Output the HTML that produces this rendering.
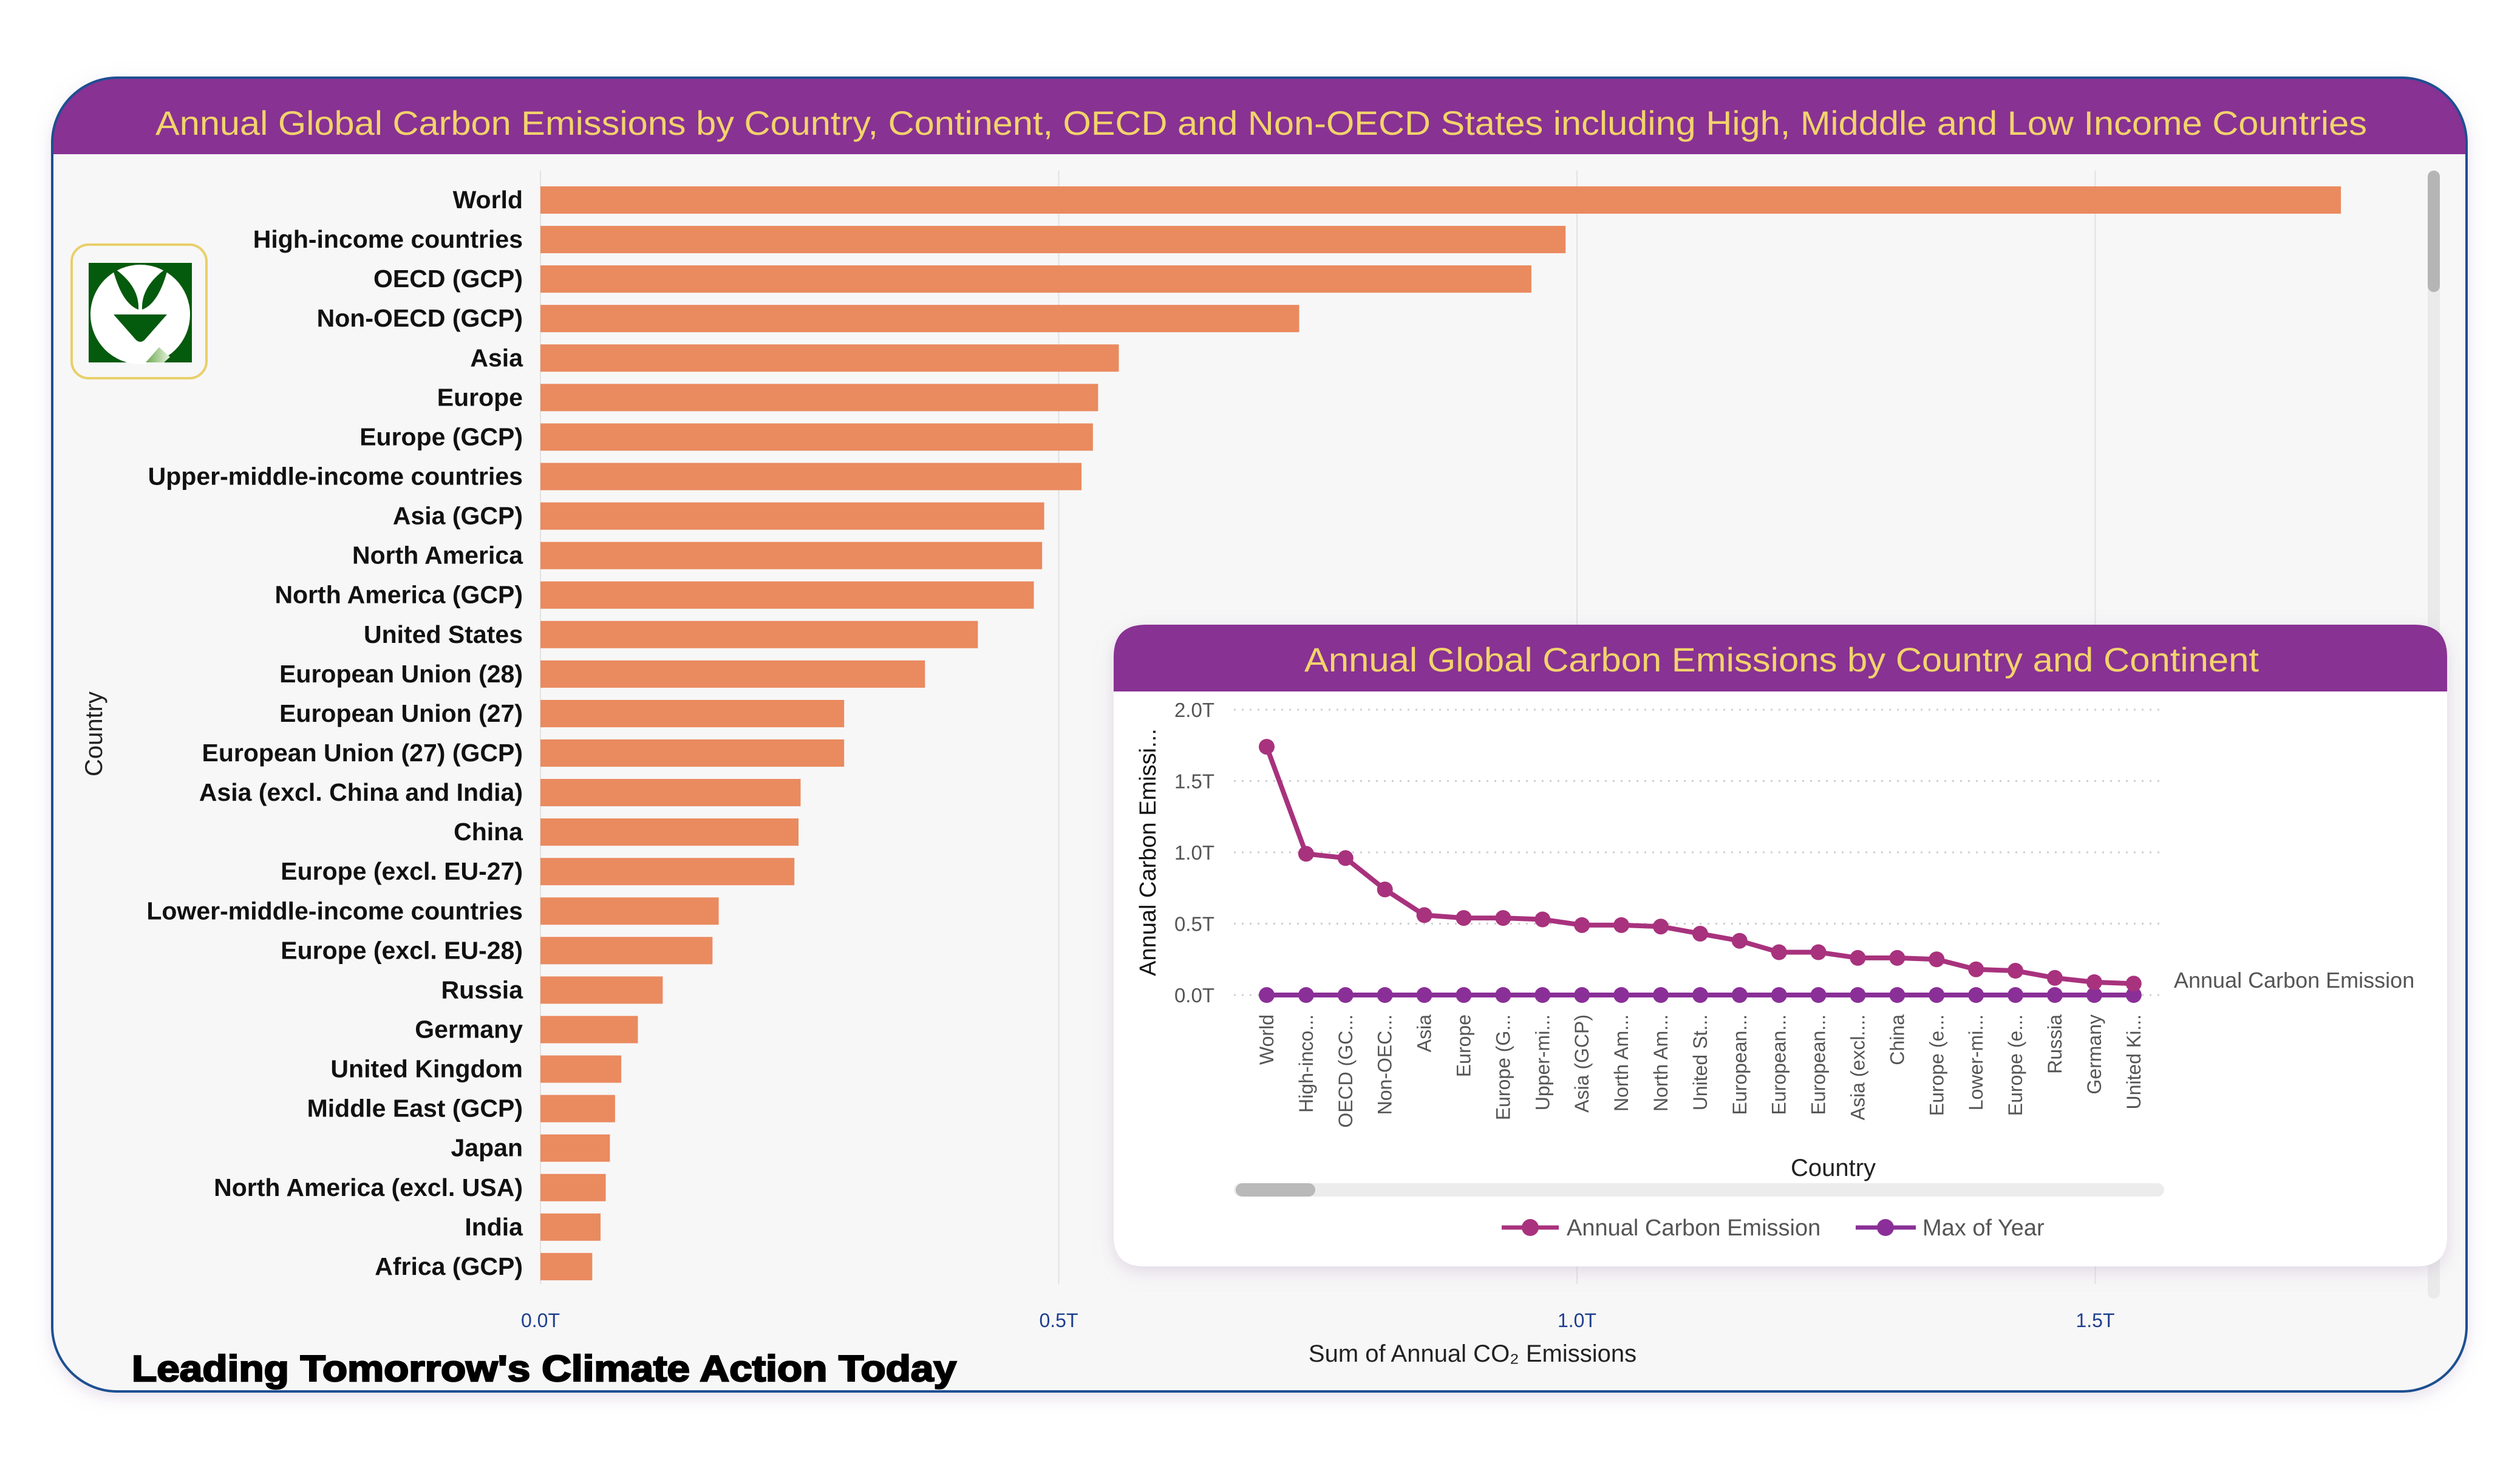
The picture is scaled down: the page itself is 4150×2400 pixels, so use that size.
<!DOCTYPE html>
<html><head><meta charset="utf-8"><style>
html,body{margin:0;padding:0;background:#fff;}
svg{display:block;font-family:"Liberation Sans",sans-serif;}
</style></head><body>
<svg id="root" width="4150" height="2400" viewBox="0 0 4150 2400" xmlns="http://www.w3.org/2000/svg">
<defs>
<filter id="sh" x="-5%" y="-5%" width="110%" height="110%"><feDropShadow dx="0" dy="8" stdDeviation="14" flood-color="#c9b7d2" flood-opacity="0.5"/></filter>
<clipPath id="cardclip"><rect x="86" y="128" width="3976" height="2164" rx="107"/></clipPath>
<linearGradient id="lg" x1="0" x2="1"><stop offset="0" stop-color="#6aa84f"/><stop offset="1" stop-color="#e8f3e0"/></linearGradient>
</defs>
<rect x="86" y="128" width="3976" height="2164" rx="107" fill="#f7f7f7" filter="url(#sh)"/>
<g clip-path="url(#cardclip)">
<rect x="86" y="128" width="3976" height="126" fill="#883293"/>
</g>
<rect x="86" y="128" width="3976" height="2164" rx="107" fill="none" stroke="#1d4f91" stroke-width="4"/>
<text x="256" y="222" textLength="3642" lengthAdjust="spacingAndGlyphs" font-size="56" fill="#f2d36b">Annual Global Carbon Emissions by Country, Continent, OECD and Non-OECD States including High, Midddle and Low Income Countries</text>

<g>
<rect x="118" y="403" width="222" height="220" rx="28" fill="#f7f7f7" stroke="#e8cf6a" stroke-width="4"/>
<rect x="146" y="433" width="170" height="164" fill="#045a0d"/>
<circle cx="231" cy="518" r="82" fill="#fff"/>
<path d="M185 440 Q230 470 228 510 Q200 500 185 440Z M277 440 Q232 470 234 510 Q262 500 277 440Z" fill="#045a0d"/>
<path d="M187 518 L275 518 L238 560 Q231 566 224 560Z" fill="#045a0d"/>
<path d="M240 597 L262 572 L280 588 L270 597Z" fill="url(#lg)"/>
</g>

<g id="bars"></g>
<text x="168" y="1209" transform="rotate(-90 168 1209)" text-anchor="middle" font-size="40" fill="#222">Country</text>
<text x="2425" y="2243" text-anchor="middle" font-size="40" fill="#222">Sum of Annual CO₂ Emissions</text>
<rect x="3998" y="281" width="20" height="1858" rx="10" fill="#eaeaea"/>
<rect x="3998" y="281" width="20" height="200" rx="10" fill="#b5b5b5"/>
<text x="217" y="2275" font-size="60" font-weight="bold" fill="#000" stroke="#000" stroke-width="2.5" textLength="1358" lengthAdjust="spacingAndGlyphs">Leading Tomorrow's Climate Action Today</text>

<g>
<path d="M1834 1082 Q1834 1029 1887 1029 L3977 1029 Q4030 1029 4030 1082 L4030 2036 Q4030 2086 3980 2086 L1884 2086 Q1834 2086 1834 2036Z" fill="#fff" filter="url(#sh)"/>
<path d="M1834 1082 Q1834 1029 1887 1029 L3977 1029 Q4030 1029 4030 1082 L4030 1139 L1834 1139Z" fill="#883293"/>
<text x="2148" y="1106" textLength="1572" lengthAdjust="spacingAndGlyphs" font-size="56" fill="#f2d36b">Annual Global Carbon Emissions by Country and Continent</text>
</g>
<g id="line"></g>
<text x="1903" y="1404" transform="rotate(-90 1903 1404)" text-anchor="middle" font-size="38" fill="#111">Annual Carbon Emissi...</text>
<text x="3019" y="1937" text-anchor="middle" font-size="40" fill="#222">Country</text>
<rect x="2032" y="1949" width="1532" height="22" rx="11" fill="#ececec"/>
<rect x="2035" y="1949" width="131" height="22" rx="11" fill="#b9b9b9"/>
<text x="3580" y="1627" font-size="36" fill="#555">Annual Carbon Emission</text>
<g>
<line x1="2473" y1="2022" x2="2567" y2="2022" stroke="#a8327d" stroke-width="7"/><circle cx="2520" cy="2022" r="14" fill="#a8327d"/>
<text x="2580" y="2035" font-size="38" fill="#555">Annual Carbon Emission</text></g>
<g>
<line x1="3056" y1="2022" x2="3155" y2="2022" stroke="#8a2f97" stroke-width="7"/><circle cx="3105" cy="2022" r="14" fill="#8a2f97"/>
<text x="3166" y="2035" font-size="38" fill="#555">Max of Year</text></g>
</svg>
<script>
var NS="http://www.w3.org/2000/svg";
var barCategories=["World","High-income countries","OECD (GCP)","Non-OECD (GCP)","Asia","Europe","Europe (GCP)","Upper-middle-income countries","Asia (GCP)","North America","North America (GCP)","United States","European Union (28)","European Union (27)","European Union (27) (GCP)","Asia (excl. China and India)","China","Europe (excl. EU-27)","Lower-middle-income countries","Europe (excl. EU-28)","Russia","Germany","United Kingdom","Middle East (GCP)","Japan","North America (excl. USA)","India","Africa (GCP)"];
var barValues=[1.737,0.989,0.956,0.732,0.558,0.538,0.533,0.522,0.486,0.484,0.476,0.422,0.371,0.293,0.293,0.251,0.249,0.245,0.172,0.166,0.118,0.094,0.078,0.072,0.067,0.063,0.058,0.050];
var barTicks=[0,0.5,1.0,1.5];
var barTickLabels=["0.0T","0.5T","1.0T","1.5T"];
var lineCategories=["World","High-inco...","OECD (GC...","Non-OEC...","Asia","Europe","Europe (G...","Upper-mi...","Asia (GCP)","North Am...","North Am...","United St...","European...","European...","European...","Asia (excl....","China","Europe (e...","Lower-mi...","Europe (e...","Russia","Germany","United Ki..."];
var lineAnnual=[1.74,0.99,0.96,0.74,0.56,0.54,0.54,0.53,0.49,0.49,0.48,0.43,0.38,0.30,0.30,0.26,0.26,0.25,0.18,0.17,0.12,0.09,0.08];
var lineMaxYear=[0,0,0,0,0,0,0,0,0,0,0,0,0,0,0,0,0,0,0,0,0,0,0];
var lineTicks=[0,0.5,1.0,1.5,2.0];
var lineTickLabels=["0.0T","0.5T","1.0T","1.5T","2.0T"];

function mk(tag,attrs,parent,txt){var e=document.createElementNS(NS,tag);for(var k in attrs)e.setAttribute(k,attrs[k]);if(txt!==undefined)e.textContent=txt;parent.appendChild(e);return e;}
var bx=function(v){return 890+v*1707;};
var by=function(i){return 329+i*65.07;};
var bg=document.getElementById('bars');
barTicks.forEach(function(t,i){
  var g=mk('line',{x1:bx(t),x2:bx(t),y1:281,y2:2115,stroke:'#e2e2e2','stroke-width':2},bg);
  
  
  var l=mk('text',{x:bx(t),y:2186,'text-anchor':'middle','font-size':32,fill:'#1f3f8f'},bg,barTickLabels[i]);
  
  
});
barCategories.forEach(function(c,i){
  var r=mk('rect',{x:bx(0),y:by(i)-22,width:bx(barValues[i])-bx(0),height:45,fill:'#ea8a5f'},bg);
  
  
  var t=mk('text',{x:861,y:by(i)+14,'text-anchor':'end','font-size':41,'font-weight':'bold',fill:'#111'},bg,c);
  
  
});
var lx=function(i){return 2086+i*64.9;};
var ly=function(v){return 1639-v*235;};
var lg=document.getElementById('line');
lineTicks.forEach(function(t,i){
  var g=mk('line',{x1:2032,x2:3557,y1:ly(t),y2:ly(t),stroke:'#cfcfcf','stroke-width':3,'stroke-dasharray':'3 10'},lg);
  
  
  var l=mk('text',{x:2000,y:ly(t)+12,'text-anchor':'end','font-size':33,fill:'#555'},lg,lineTickLabels[i]);
  
  
});
lineCategories.forEach(function(c,i){
  var x=lx(i)+11,y=1671;
  var t=mk('text',{x:x,y:y,transform:'rotate(-90 '+x+' '+y+')','text-anchor':'end','font-size':32,fill:'#555'},lg,c);
  
  
});
function series(vals,color,name){
  var d=vals.map(function(v,i){return (i?'L':'M')+lx(i)+' '+ly(v);}).join(' ');
  var p=mk('path',{d:d,fill:'none',stroke:color,'stroke-width':8,'stroke-linejoin':'round'},lg);
  
  
  vals.forEach(function(v,i){
    var c=mk('circle',{cx:lx(i),cy:ly(v),r:13,fill:color},lg);
    
    
  });
}
series(lineMaxYear,'#8a2f97','max-of-year');
series(lineAnnual,'#a8327d','annual-carbon-emission');
</script>
</body></html>
